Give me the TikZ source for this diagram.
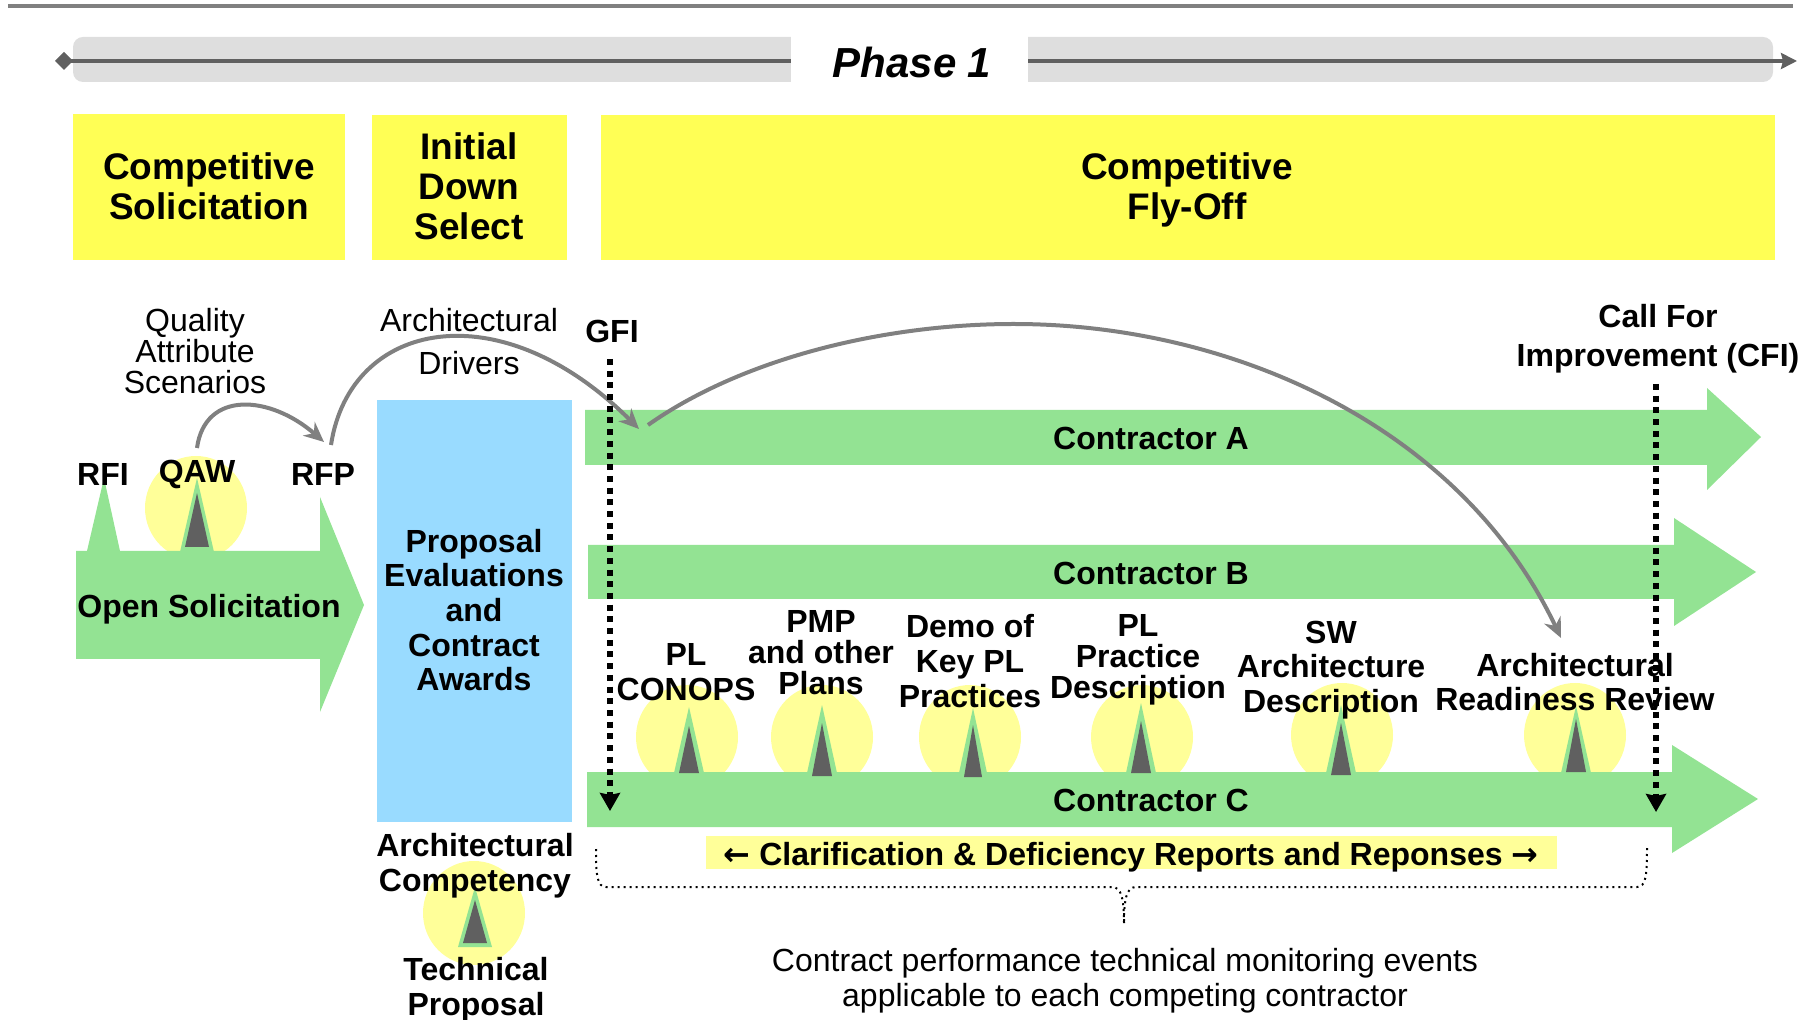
\documentclass[tikz,border=0pt]{standalone}
\usepackage{fontspec}
\setmainfont{Liberation Sans}
\newfontfamily\arrowfont{DejaVu Sans}
\usetikzlibrary{arrows.meta}
\definecolor{bargreen}{HTML}{93E393}
\definecolor{headyellow}{HTML}{FFFF55}
\definecolor{paleyellow}{HTML}{FFFF99}
\definecolor{awardblue}{HTML}{99DBFF}
\definecolor{darkmark}{HTML}{606060}
\tikzset{
    lbl/.style={font=\fontsize{16}{17.3}\selectfont\bfseries,align=center,inner sep=0pt},
    tightlbl/.style={font=\fontsize{16}{15.5}\selectfont\bfseries,align=center,inner sep=0pt},
    plainlbl/.style={font=\fontsize{16}{15.5}\selectfont,align=center,inner sep=0pt},
    headlbl/.style={font=\fontsize{18.5}{20}\selectfont\bfseries,align=center,inner sep=0pt},
    curve/.style={draw=gray,line width=2pt,-{Stealth[length=10pt,width=9pt]}},
    gate/.style={line width=3pt,dash pattern=on 3pt off 2.85pt,-{Stealth[length=9pt,width=10pt,inset=1pt]}}
}
\newcommand{\marker}[6]{% tip x, tip y, base half width, base y, gray tip y, gray base y
    \fill[bargreen] (#1-#3,#4) -- (#1,#2) -- (#1+#3,#4) -- cycle;
    \fill[darkmark] (#1-#3+5,#6) -- (#1,#5) -- (#1+#3-5,#6) -- cycle;
}
\begin{document}
\begin{tikzpicture}[x=0.5pt,y=-0.5pt]
    \useasboundingbox (0,0) rectangle (1814,1020);
    \draw[gray,line width=1.6pt] (8,6) -- (1793,6);
    % timeline
    \fill[black!13,rounded corners=5pt] (73,37) rectangle (1773,82);
    \coordinate (phasestart) at (55,61);
    \coordinate (phaseend) at (1797,61);
    \draw[darkmark,line width=1.6pt,{Diamond[length=9pt,width=9pt]}-{Stealth[length=8pt,width=8pt,inset=1pt]}] (phasestart) -- (phaseend);
    \fill[white] (791,34) rectangle (1028,84);
    \node[font=\fontsize{21}{24}\selectfont\bfseries\itshape,inner sep=0pt] (phase) at (912,62) {Phase 1};
    % headers
    \fill[headyellow] (73,114) rectangle (345,260);
    \fill[headyellow] (372,115) rectangle (567,260);
    \fill[headyellow] (601,115) rectangle (1775,260);
    \node[headlbl] (solicit) at (209,186) {Competitive\\Solicitation};
    \node[headlbl] (downsel) at (469,186) {Initial\\Down\\Select};
    \node[headlbl] (flyoff) at (1187,190) {Competitive\\Fly-Off};
    % halos
    \foreach \mx/\my in {196/508,687/737,822/737,970/737,1142/737,1342/735,1575/735,474/913}
        \fill[paleyellow] (\mx,\my) ellipse [x radius=25.5pt,y radius=26pt];
    % bars
    \fill[bargreen] (76,551) -- (87,551) -- (104,478) -- (120,551) -- (320,551) -- (320,497) -- (364,605) -- (320,712) -- (320,659) -- (76,659) -- cycle;
    \fill[bargreen] (585,410) -- (1707,410) -- (1707,388) -- (1761,437) -- (1707,490) -- (1707,465) -- (585,465) -- cycle;
    \fill[bargreen] (588,545) -- (1674,545) -- (1674,518) -- (1756,572) -- (1674,626) -- (1674,599) -- (588,599) -- cycle;
    \fill[bargreen] (587,772) -- (1672,772) -- (1672,745) -- (1758,799) -- (1672,853) -- (1672,827) -- (587,827) -- cycle;
    \fill[awardblue] (377,400) rectangle (572,822);
    \fill[paleyellow] (706,836) rectangle (1557,869);
    % markers
    \marker{197}{478}{17}{552}{493}{547}
    \marker{689}{707}{15}{773}{726}{773}
    \marker{822}{705}{15}{773}{723}{776}
    \marker{973}{708}{14}{773}{725}{777}
    \marker{1141}{703}{15}{773}{721}{773}
    \marker{1341}{705}{15}{773}{723}{775}
    \marker{1576}{706}{15}{773}{719}{772}
    \marker{475}{887}{17}{947}{900}{943}
    % labels
    \node[plainlbl] (quality) at (195,351) {Quality\\Attribute\\Scenarios};
    \node[plainlbl,font=\fontsize{16}{21.5}\selectfont] (drivers) at (469,342) {Architectural\\Drivers};
    \node[lbl] (rfi) at (103,474) {RFI};
    \node[lbl] (qaw) at (197,474) {QAW};
    \node[lbl] (rfp) at (323,474) {RFP};
    \node[lbl] (open) at (209,609) {Open Solicitation};
    \node[lbl] (awards) at (474,610) {Proposal\\Evaluations\\and\\Contract\\Awards};
    \node[lbl] (gfi) at (612,331) {GFI};
    \node[lbl,font=\fontsize{16}{19.5}\selectfont\bfseries] (cfi) at (1658,339) {Call For\\Improvement (CFI)};
    \node[lbl] (contra) at (1151,438) {Contractor A};
    \node[lbl] (contrb) at (1151,573) {Contractor B};
    \node[lbl] (contrc) at (1151,800) {Contractor C};
    \node[lbl] (conops) at (686,672) {PL\\CONOPS};
    \node[tightlbl] (pmp) at (821,653) {PMP\\and other\\Plans};
    \node[lbl] (demo) at (970,661) {Demo of\\Key PL\\Practices};
    \node[tightlbl] (practice) at (1138,660) {PL\\Practice\\Description};
    \node[lbl] (swarch) at (1331,670) {SW\\Architecture\\Description};
    \node[lbl] (review) at (1575,682) {Architectural\\Readiness Review};
    \node[lbl] (compet) at (475,866) {Architectural\\Competency};
    \node[lbl] (techprop) at (476,990) {Technical\\Proposal};
    \node[lbl] (clarif) at (1131,857) {{\arrowfont ←} Clarification \& Deficiency Reports and Reponses {\arrowfont →}};
    \node[plainlbl,font=\fontsize{16}{17.5}\selectfont] (monitor) at (1125,981) {Contract performance technical monitoring events\\applicable to each competing contractor};
    % connectors
    \coordinate (qawout) at (197,448);
    \coordinate (rfpin) at (324,442);
    \coordinate (rfpout) at (331,445);
    \coordinate (fromrfp) at (639,429);
    \coordinate (gfiout) at (648,425);
    \coordinate (toreview) at (1561,638);
    \coordinate (gfiend) at (610,811);
    \coordinate (cfiend) at (1656,812);
    \coordinate (gfitop) at (610,359);
    \coordinate (cfitop) at (1656,384);
    \draw[curve] (qawout) .. controls (205,390) and (270,395) .. (rfpin);
    \draw[curve] (rfpout) .. controls (350,320) and (500,290) .. (fromrfp);
    \draw[curve] (gfiout) .. controls (740,360) and (880,324) .. (1014,324) .. controls (1230,324) and (1460,425) .. (toreview);
    \draw[gate] (gfitop) -- (gfiend);
    \draw[gate] (cfitop) -- (cfiend);
    % brace
    \draw[line width=1pt,dotted] (596,849) .. controls (596,875) and (597,887) .. (606,887) -- (1112,887) .. controls (1122,887) and (1124,900) .. (1124,925);
    \draw[line width=1pt,dotted] (1647,848) .. controls (1647,875) and (1646,887) .. (1637,887) -- (1136,887) .. controls (1126,887) and (1124,900) .. (1124,925);
\end{tikzpicture}
\end{document}
